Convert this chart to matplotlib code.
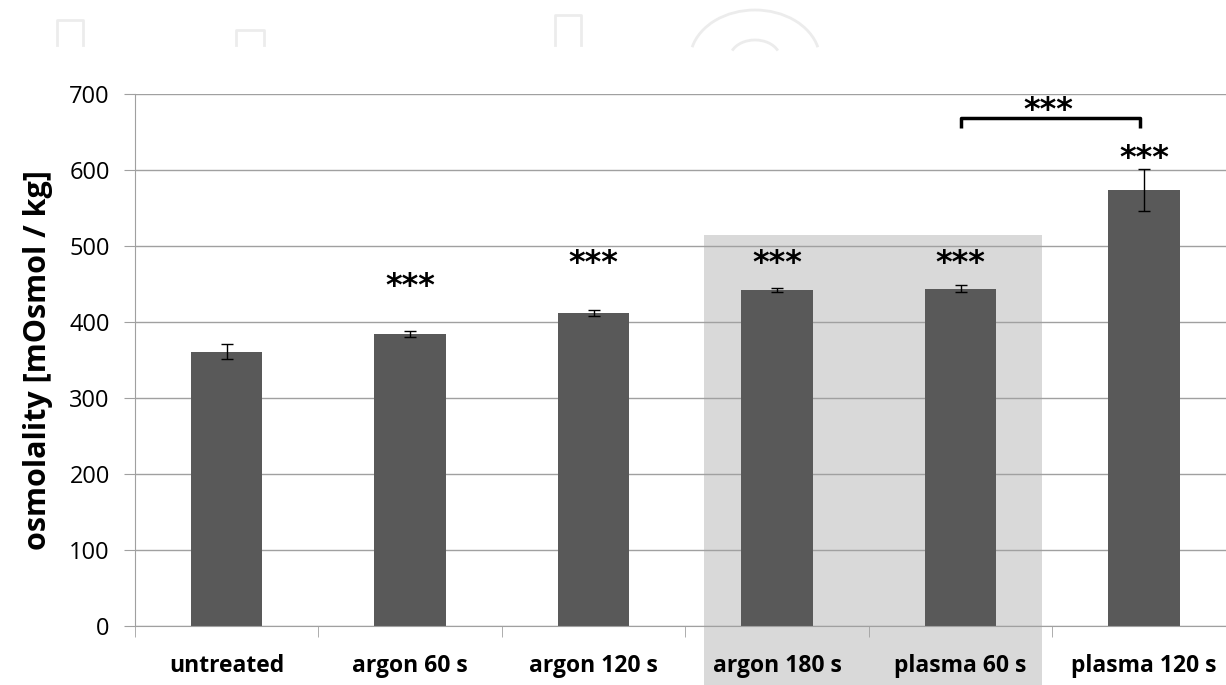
import matplotlib
matplotlib.use("Agg")
import matplotlib.pyplot as plt
from matplotlib.patches import Rectangle, Arc

# data
categories = ["untreated", "argon 60 s", "argon 120 s", "argon 180 s", "plasma 60 s", "plasma 120 s"]
osmolality = [361, 384, 412, 442, 444, 574]
errors = [10, 3.5, 4, 3, 5, 27.5]
stars = ["", "***", "***", "***", "***", "***"]
star_y = [0, 447, 477, 477, 477, 615]

plt.rcParams['font.family'] = ['Open Sans', 'DejaVu Sans']

fig = plt.figure(figsize=(12.26, 6.85), dpi=100)
ax = fig.add_axes([0.110, 0.0861, 0.898, 0.7767])

x = list(range(len(categories)))
ax.bar(x, osmolality, width=0.39, color="#595959", zorder=2)
ax.errorbar(x, osmolality, yerr=errors, fmt="none", ecolor="black",
            elinewidth=1, capsize=4.3, capthick=1, zorder=3)

# grey highlight behind argon 180 s / plasma 60 s (runs down over the labels)
ax.add_patch(Rectangle((2.60, -90), 1.845, 515 + 90, facecolor="#d9d9d9",
                       edgecolor="none", zorder=0, clip_on=False))

# significance stars
for xi, s, ys in zip(x, stars, star_y):
    if s:
        ax.text(xi, ys, s, ha="center", va="center", fontsize=23,
                fontweight="bold", family="DejaVu Sans", zorder=4)

# bracket between plasma 60 s and plasma 120 s
ax.plot([4.0, 4.0, 4.98, 4.98], [655, 669, 669, 655], color="black", lw=2.5,
        solid_joinstyle="round", solid_capstyle="butt", clip_on=False, zorder=4)
ax.text(4.48, 678, "***", ha="center", va="center", fontsize=23,
        fontweight="bold", family="DejaVu Sans", zorder=4)

ax.set_xlim(-0.5, len(categories) - 0.5)
ax.set_ylim(0, 700)
ax.set_yticks(range(0, 701, 100))
ax.set_xticks(x)
ax.set_xticklabels(categories, fontsize=16.5, fontweight="bold")
ax.set_xticks([i - 0.5 for i in range(len(categories) + 1)], minor=True)
ax.tick_params(axis="x", which="major", length=0, pad=20)
ax.tick_params(axis="x", which="minor", length=8, color="#a0a0a0", direction="out")
ax.tick_params(axis="y", labelsize=17, length=8, color="#a0a0a0", pad=10)
ax.set_ylabel("osmolality [mOsmol / kg]", fontsize=22, fontweight="bold", labelpad=12)

ax.yaxis.grid(True, color="#a0a0a0", lw=1)
ax.set_axisbelow(True)
for side in ["top", "right"]:
    ax.spines[side].set_visible(False)
for side in ["left", "bottom"]:
    ax.spines[side].set_color("#a0a0a0")

# faint watermark outlines at the top
wm = "#ececec"
for (x0, w, y0) in [(57, 26, 20), (236, 28, 30), (555, 26, 15)]:
    fig.add_artist(plt.Line2D([x0 / 1226, x0 / 1226, (x0 + w) / 1226, (x0 + w) / 1226],
                              [1 - 45 / 685, 1 - y0 / 685, 1 - y0 / 685, 1 - 45 / 685],
                              color=wm, lw=2, transform=fig.transFigure))
fig.add_artist(Arc((755 / 1226, 1 - 60 / 685), 130 / 1226, 100 / 685, theta1=20, theta2=160,
                   color=wm, lw=2, transform=fig.transFigure))
fig.add_artist(Arc((755 / 1226, 1 - 58 / 685), 50 / 1226, 36 / 685, theta1=30, theta2=150,
                   color=wm, lw=2, transform=fig.transFigure))

fig.savefig("out.png", dpi=100)
